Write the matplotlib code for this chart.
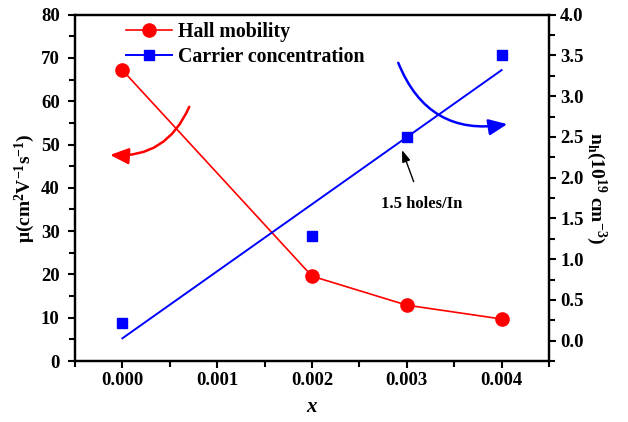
import numpy as np
import matplotlib
matplotlib.use('Agg')
import matplotlib.pyplot as plt
from matplotlib.lines import Line2D
from matplotlib.patches import FancyArrowPatch
from matplotlib.ticker import MultipleLocator

# datos
x_vals = [0.000, 0.002, 0.003, 0.004]
hall_mobility = [67.2, 19.6, 12.9, 9.7]
carrier_conc = [0.22, 1.29, 2.50, 3.51]
x_ticks = [0.000, 0.001, 0.002, 0.003, 0.004]
n_ticks = [0.0, 0.5, 1.0, 1.5, 2.0, 2.5, 3.0, 3.5, 4.0]

plt.rcParams['font.family'] = ['Liberation Serif', 'DejaVu Serif']
plt.rcParams['font.weight'] = 'bold'
plt.rcParams['axes.labelweight'] = 'bold'
plt.rcParams['mathtext.fontset'] = 'custom'
plt.rcParams['mathtext.rm'] = 'Liberation Serif:bold'
plt.rcParams['mathtext.it'] = 'Liberation Serif:italic:bold'
plt.rcParams['mathtext.bf'] = 'Liberation Serif:bold'
plt.rcParams['mathtext.default'] = 'bf'

red = '#ff0000'
blue = '#0000ff'

fig = plt.figure(figsize=(6.28, 4.22), dpi=100)
ax = fig.add_axes([75 / 628, 1 - 361 / 422, 474 / 628, 346.3 / 422])
ax2 = ax.twinx()

# movilidad Hall (eje izquierdo)
ax.plot(x_vals, hall_mobility, color=red, lw=1.2, marker='o', ms=9.5, zorder=3)

# concentracion de portadores (eje derecho) + ajuste lineal
ax2.plot(x_vals, carrier_conc, ls='none', color=blue, marker='s', ms=6.5)
coef = np.polyfit(x_vals, carrier_conc, 1)
ax2.plot([x_vals[0], x_vals[-1]], np.polyval(coef, [x_vals[0], x_vals[-1]]), color=blue, lw=1.4)

ax.set_xlim(-0.0005, 0.0045)
ax.set_ylim(0, 80)

ax.set_xticks(x_ticks)
ax.set_xticklabels([f'{t:.3f}' for t in x_ticks])
ax.xaxis.set_minor_locator(MultipleLocator(0.0005))
ax.yaxis.set_major_locator(MultipleLocator(10))
ax.yaxis.set_minor_locator(MultipleLocator(5))
ax2.set_yticks(n_ticks)
ax2.set_yticklabels([f'{t:.1f}' for t in n_ticks])
ax2.yaxis.set_minor_locator(MultipleLocator(0.25))
ax2.set_ylim(-0.25, 4.0)

for a in (ax, ax2):
    a.tick_params(which='major', direction='out', length=5, width=1.5, labelsize=13.5, pad=3)
    a.tick_params(which='minor', direction='out', length=4, width=1.5)
    for s in a.spines.values():
        s.set_linewidth(1.6)
ax.tick_params(axis='y', which='major', pad=6)

ax.set_xlabel(r'$\mathit{x}$', fontsize=15, labelpad=6)
ax.set_ylabel('μ(cm$^{2}$V$^{-1}$s$^{-1}$)', fontsize=14, labelpad=3)
ax2.set_ylabel('n$_{h}$(10$^{19}$ cm$^{-3}$)', fontsize=14, rotation=-90, labelpad=18)

handles = [Line2D([], [], color=red, lw=1.2, marker='o', ms=9.5),
           Line2D([], [], color=blue, lw=1.4, marker='s', ms=6.5)]
ax.legend(handles, ['Hall mobility', 'Carrier concentration'], loc='upper left',
          bbox_to_anchor=(0.07, 1.03), frameon=False, fontsize=14.3,
          handlelength=2.3, handletextpad=0.3, labelspacing=0.25)

# flechas curvas
arr_red = FancyArrowPatch((0.241, 0.734), (0.074, 0.595), transform=ax.transAxes,
                          connectionstyle='arc3,rad=-0.35', arrowstyle='-|>,head_width=0.35,head_length=0.8',
                          mutation_scale=14, color=red, lw=1.8, shrinkA=0, shrinkB=0)
arr_blue = FancyArrowPatch((0.682, 0.861), (0.912, 0.684), transform=ax.transAxes,
                           connectionstyle='arc3,rad=0.4', arrowstyle='-|>,head_width=0.35,head_length=0.8',
                           mutation_scale=14, color=blue, lw=1.8, shrinkA=0, shrinkB=0)
ax.add_patch(arr_red)
ax.add_patch(arr_blue)

ax.annotate('1.5 holes/In', xy=(0.690, 0.609), xytext=(0.732, 0.453), xycoords='axes fraction',
            textcoords='axes fraction', ha='center', va='center', fontsize=12,
            arrowprops=dict(arrowstyle='-|>,head_width=0.25,head_length=0.7', color='black',
                            lw=1.0, shrinkA=9, shrinkB=0, mutation_scale=10))

fig.savefig('out.png', dpi=100)
